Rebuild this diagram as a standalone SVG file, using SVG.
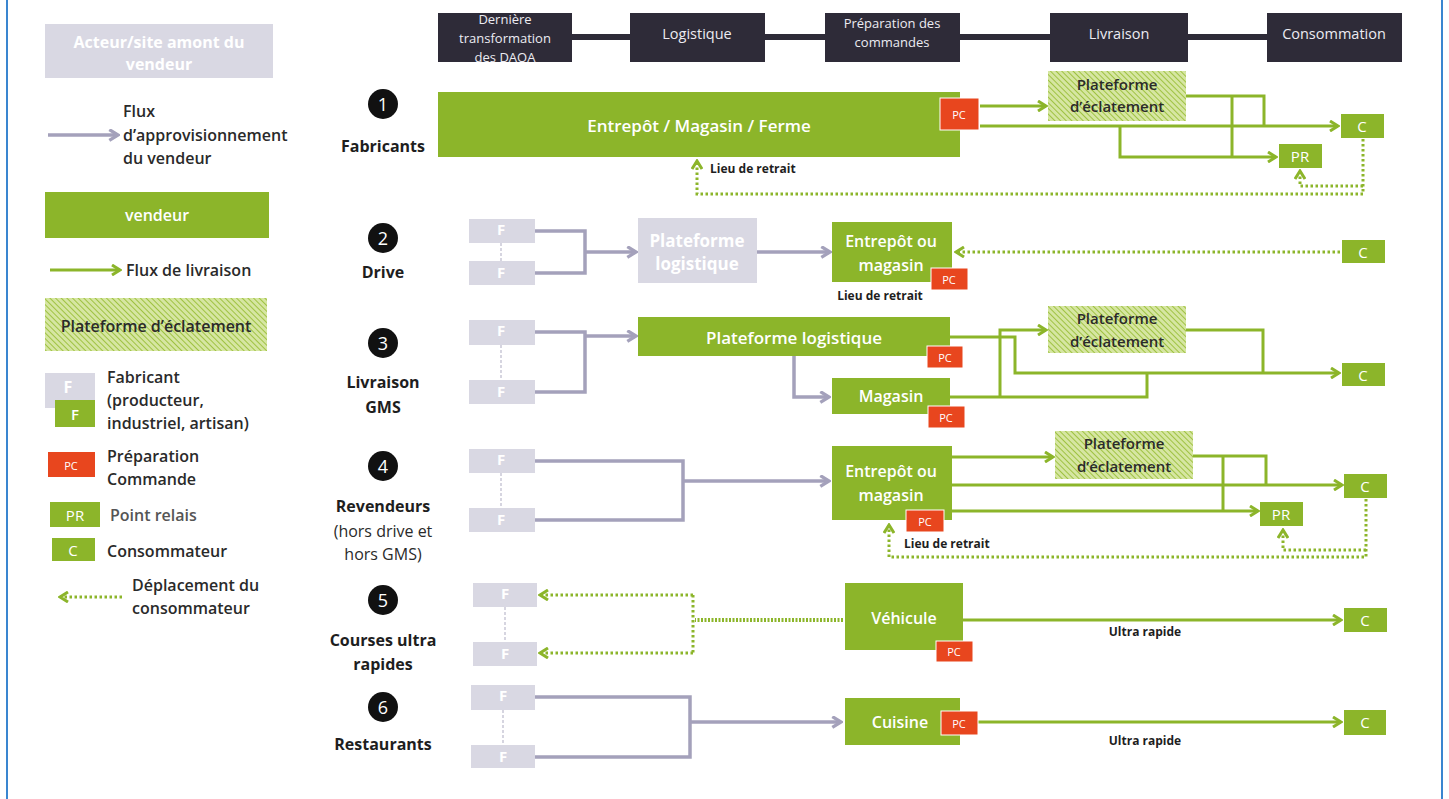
<svg xmlns="http://www.w3.org/2000/svg" width="1449" height="799" viewBox="0 0 1449 799">
<defs>
<style>
text{font-family:"Open Sans","Noto Sans","DejaVu Sans",sans-serif}
.g{fill:#8cb52a}
.gr{fill:#d9d8e3}
.pc{fill:#e8461e;stroke:#fff;stroke-width:1}
.hd{fill:#2e2b38}
.ht{fill:url(#hatch)}
.tw{fill:#fff;font-weight:600;text-anchor:middle;dominant-baseline:central}
.tr{fill:#fff;font-size:15px;font-weight:400;text-anchor:middle;dominant-baseline:central}
.th{fill:#ecebf2;font-size:13px;text-anchor:middle;dominant-baseline:central}
.th1{fill:#ecebf2;font-size:14.5px;text-anchor:middle;dominant-baseline:central}
.tpc{fill:#fff;font-size:11px;text-anchor:middle;dominant-baseline:central}
.td{fill:#2a2a2a;font-weight:600;dominant-baseline:central}
.tb{fill:#1e1e1e;font-weight:700;dominant-baseline:central}
.tc{text-anchor:middle}
.tn{fill:#2a2a2a;font-weight:400;dominant-baseline:central}
.lg{fill:none;stroke:#8cb52a;stroke-width:3}
.lgr{fill:none;stroke:#a4a1bb;stroke-width:3.5}
.ld{fill:none;stroke:#8cb52a;stroke-width:3;stroke-dasharray:2.5 2.5}
.ldd{fill:none;stroke:#8cb52a;stroke-width:4;stroke-dasharray:2 1.5}
.dash{stroke:#c9c8d6;stroke-width:1.5;stroke-dasharray:3 2}
.num{fill:#fff;font-size:18px;text-anchor:middle;dominant-baseline:central}
</style>
<pattern id="hatch" width="4" height="4" patternUnits="userSpaceOnUse" patternTransform="rotate(-45)">
<rect width="4" height="4" fill="#d6e6a2"/>
<line x1="0" y1="0" x2="0" y2="4" stroke="#9fc242" stroke-width="2"/>
</pattern>
<marker id="ag" viewBox="0 0 12 12" refX="10" refY="6" markerWidth="12" markerHeight="12" markerUnits="userSpaceOnUse" orient="auto"><path d="M2,1 L10,6 L2,11" fill="none" stroke="#8cb52a" stroke-width="3"/></marker>
<marker id="agr" viewBox="0 0 12 12" refX="10" refY="6" markerWidth="13" markerHeight="13" markerUnits="userSpaceOnUse" orient="auto"><path d="M2,1 L10,6 L2,11" fill="none" stroke="#a4a1bb" stroke-width="3"/></marker>
</defs>

<rect width="1449" height="799" fill="#fff"/>
<line x1="7" y1="0" x2="7" y2="799" stroke="#3a86d0" stroke-width="2"/>
<line x1="1442" y1="0" x2="1442" y2="799" stroke="#3a86d0" stroke-width="2"/>

<!-- Legend -->
<g id="legend">
<rect class="gr" x="45" y="24" width="228" height="54"/>
<text class="tw" x="159" y="42" font-size="16" style="font-weight:700">Acteur/site amont du</text>
<text class="tw" x="159" y="64" font-size="16" style="font-weight:700">vendeur</text>
<path class="lgr" d="M48,135 H118" marker-end="url(#agr)"/>
<text class="td" x="123" y="111" font-size="16">Flux</text>
<text class="td" x="123" y="135" font-size="16">d’approvisionnement</text>
<text class="td" x="123" y="158" font-size="16">du vendeur</text>
<rect class="g" x="45" y="192" width="224" height="46"/>
<text class="tw" x="157" y="215" font-size="16">vendeur</text>
<path class="lg" d="M50,270 H120" marker-end="url(#ag)"/>
<text class="td" x="126" y="270" font-size="16">Flux de livraison</text>
<rect class="ht" x="45" y="298" width="222" height="53"/>
<text class="td tc" x="156" y="326" font-size="16">Plateforme d’éclatement</text>
<rect class="gr" x="45" y="373" width="50" height="35"/>
<text class="tw" x="68" y="387" font-size="16" style="font-weight:700">F</text>
<rect class="g" x="55" y="400" width="40" height="27"/>
<text class="tw" x="75" y="414" font-size="15">F</text>
<text class="td" x="107" y="377" font-size="16">Fabricant</text>
<text class="td" x="107" y="400" font-size="16">(producteur,</text>
<text class="td" x="107" y="423" font-size="16">industriel, artisan)</text>
<rect class="pc" x="48" y="452" width="47" height="25" style="stroke:none"/>
<text class="tpc" x="71" y="465">PC</text>
<text class="td" x="107" y="456" font-size="16">Préparation</text>
<text class="td" x="107" y="479" font-size="16">Commande</text>
<rect class="g" x="50" y="502" width="50" height="25"/>
<text class="tr" x="75" y="515">PR</text>
<text class="td" x="110" y="515" font-size="16" style="fill:#555">Point relais</text>
<rect class="g" x="52" y="538" width="43" height="23"/>
<text class="tr" x="73" y="550">C</text>
<text class="td" x="107" y="551" font-size="16">Consommateur</text>
<path class="ld" d="M122,597 H60" marker-end="url(#ag)"/>
<text class="td" x="132" y="585" font-size="16">Déplacement du</text>
<text class="td" x="132" y="608" font-size="16">consommateur</text>
</g>

<!-- Header -->
<g id="header">
<rect class="hd" x="572" y="34" width="58" height="6"/>
<rect class="hd" x="765" y="34" width="60" height="6"/>
<rect class="hd" x="960" y="34" width="90" height="6"/>
<rect class="hd" x="1188" y="34" width="79" height="6"/>
<rect class="hd" x="438" y="13" width="134" height="49"/>
<text class="th" x="505" y="19">Dernière</text>
<text class="th" x="505" y="38">transformation</text>
<text class="th" x="505" y="57">des DAOA</text>
<rect class="hd" x="630" y="13" width="135" height="49"/>
<text class="th1" x="697" y="33">Logistique</text>
<rect class="hd" x="825" y="13" width="135" height="49"/>
<text class="th" x="892" y="23">Préparation des</text>
<text class="th" x="892" y="42">commandes</text>
<rect class="hd" x="1050" y="13" width="138" height="49"/>
<text class="th1" x="1119" y="33">Livraison</text>
<rect class="hd" x="1267" y="13" width="135" height="49"/>
<text class="th1" x="1334" y="33">Consommation</text>
</g>

<!-- Row labels -->
<g id="row1-label">
<circle cx="383" cy="104" r="15" fill="#111"/><text class="num" x="383" y="104">1</text>
<text class="tb tc" x="383" y="146" font-size="16">Fabricants</text>
</g>
<g id="row2-label">
<circle cx="383" cy="238" r="15" fill="#111"/><text class="num" x="383" y="238">2</text>
<text class="tb tc" x="383" y="272" font-size="16">Drive</text>
</g>
<g id="row3-label">
<circle cx="383" cy="343" r="15" fill="#111"/><text class="num" x="383" y="343">3</text>
<text class="tb tc" x="383" y="382" font-size="16">Livraison</text>
<text class="tb tc" x="383" y="407" font-size="16">GMS</text>
</g>
<g id="row4-label">
<circle cx="383" cy="466" r="15" fill="#111"/><text class="num" x="383" y="466">4</text>
<text class="tb tc" x="383" y="506" font-size="16">Revendeurs</text>
<text class="tn tc" x="383" y="531" font-size="16">(hors drive et</text>
<text class="tn tc" x="383" y="554" font-size="16">hors GMS)</text>
</g>
<g id="row5-label">
<circle cx="383" cy="600" r="15" fill="#111"/><text class="num" x="383" y="600">5</text>
<text class="tb tc" x="383" y="640" font-size="16">Courses ultra</text>
<text class="tb tc" x="383" y="664" font-size="16">rapides</text>
</g>
<g id="row6-label">
<circle cx="383" cy="707" r="15" fill="#111"/><text class="num" x="383" y="707">6</text>
<text class="tb tc" x="383" y="744" font-size="16">Restaurants</text>
</g>

<!-- Connectors -->
<g id="connectors">
<!-- row 1 -->
<path class="lg" d="M980,106 H1046" marker-end="url(#ag)"/>
<path class="lg" d="M980,126 H1338" marker-end="url(#ag)"/>
<path class="lg" d="M1186,96 H1264 V126"/>
<path class="lg" d="M1232,96 V157"/>
<path class="lg" d="M1120,126 V157 H1276" marker-end="url(#ag)"/>
<path class="ld" d="M1363,139 V194 H697 V161" marker-end="url(#ag)"/>
<path class="ld" d="M1363,186 H1300 V171" marker-end="url(#ag)"/>
<!-- row 2 -->
<line class="dash" x1="501" y1="243" x2="501" y2="261"/>
<path class="lgr" d="M535,231 H585 V273 H535"/>
<path class="lgr" d="M585,252 H636" marker-end="url(#agr)"/>
<path class="lgr" d="M757,252 H830" marker-end="url(#agr)"/>
<path class="ld" d="M1340,252 H956" marker-end="url(#ag)"/>
<!-- row 3 -->
<line class="dash" x1="501" y1="345" x2="501" y2="380"/>
<path class="lgr" d="M535,332 H585 V392 H535"/>
<path class="lgr" d="M585,336 H636" marker-end="url(#agr)"/>
<path class="lgr" d="M794,356 V397 H829" marker-end="url(#agr)"/>
<path class="lg" d="M950,337 H1015 V373 H1339" marker-end="url(#ag)"/>
<path class="lg" d="M950,397 H1147 V373"/>
<path class="lg" d="M1000,397 V330 H1046" marker-end="url(#ag)"/>
<path class="lg" d="M1186,330 H1263 V373"/>
<!-- row 4 -->
<line class="dash" x1="501" y1="473" x2="501" y2="508"/>
<path class="lgr" d="M535,461 H683 V520 H535"/>
<path class="lgr" d="M683,481 H829" marker-end="url(#agr)"/>
<path class="lg" d="M952,457 H1053" marker-end="url(#ag)"/>
<path class="lg" d="M952,485 H1342" marker-end="url(#ag)"/>
<path class="lg" d="M952,511 H1258" marker-end="url(#ag)"/>
<path class="lg" d="M1193,456 H1266 V485"/>
<path class="lg" d="M1223,456 V511"/>
<path class="ld" d="M1366,499 V557 H889 V525" marker-end="url(#ag)"/>
<path class="ld" d="M1366,550 H1283 V530" marker-end="url(#ag)"/>
<!-- row 5 -->
<line class="dash" x1="505" y1="607" x2="505" y2="642"/>
<path class="ld" d="M693,595 V653"/>
<path class="ld" d="M693,595 H540" marker-end="url(#ag)"/>
<path class="ld" d="M693,653 H540" marker-end="url(#ag)"/>
<path class="ldd" d="M843,620 H695"/>
<path class="lg" d="M963,620 H1341" marker-end="url(#ag)"/>
<!-- row 6 -->
<line class="dash" x1="503" y1="710" x2="503" y2="745"/>
<path class="lgr" d="M535,697 H690 V757 H535"/>
<path class="lgr" d="M690,722 H841" marker-end="url(#agr)"/>
<path class="lg" d="M978,722 H1341" marker-end="url(#ag)"/>
</g>

<!-- Row 1 nodes -->
<g id="r1-entrepot">
<rect class="g" x="438" y="92" width="522" height="65"/>
<text class="tw" x="699" y="125" font-size="17">Entrepôt / Magasin / Ferme</text>
</g>
<g id="r1-pc"><rect class="pc" x="940" y="98" width="39" height="32"/><text class="tpc" x="959" y="114">PC</text></g>
<g id="r1-plateforme">
<rect class="ht" x="1048" y="71" width="138" height="50"/>
<text class="td tc" x="1117" y="84" font-size="15">Plateforme</text>
<text class="td tc" x="1117" y="106" font-size="15">d’éclatement</text>
</g>
<g id="r1-c"><rect class="g" x="1341" y="114" width="43" height="24"/><text class="tr" x="1362" y="126">C</text></g>
<g id="r1-pr"><rect class="g" x="1279" y="144" width="43" height="24"/><text class="tr" x="1300" y="156">PR</text></g>
<g id="r1-lieu"><text class="tb" x="710" y="168" font-size="12">Lieu de retrait</text></g>

<!-- Row 2 nodes -->
<g id="r2-f1"><rect class="gr" x="469" y="219" width="66" height="24"/><text class="tw" x="501" y="229" font-size="15" style="font-weight:700">F</text></g>
<g id="r2-f2"><rect class="gr" x="469" y="261" width="66" height="24"/><text class="tw" x="501" y="272" font-size="15" style="font-weight:700">F</text></g>
<g id="r2-plateforme">
<rect class="gr" x="638" y="218" width="119" height="65"/>
<text class="tw" x="697" y="240" font-size="17" style="font-weight:700">Plateforme</text>
<text class="tw" x="697" y="263" font-size="17" style="font-weight:700">logistique</text>
</g>
<g id="r2-entrepot">
<rect class="g" x="832" y="222" width="120" height="60"/>
<text class="tw" x="891" y="241" font-size="16">Entrepôt ou</text>
<text class="tw" x="891" y="265" font-size="16">magasin</text>
</g>
<g id="r2-pc"><rect class="pc" x="931" y="268" width="37" height="22"/><text class="tpc" x="949" y="279">PC</text></g>
<g id="r2-lieu"><text class="tb tc" x="880" y="295" font-size="12">Lieu de retrait</text></g>
<g id="r2-c"><rect class="g" x="1342" y="240" width="43" height="23"/><text class="tr" x="1363" y="252">C</text></g>

<!-- Row 3 nodes -->
<g id="r3-f1"><rect class="gr" x="469" y="320" width="66" height="25"/><text class="tw" x="501" y="330" font-size="15" style="font-weight:700">F</text></g>
<g id="r3-f2"><rect class="gr" x="469" y="380" width="66" height="24"/><text class="tw" x="501" y="391" font-size="15" style="font-weight:700">F</text></g>
<g id="r3-plateforme-log">
<rect class="g" x="638" y="317" width="312" height="39"/>
<text class="tw" x="794" y="337" font-size="17">Plateforme logistique</text>
</g>
<g id="r3-pc1"><rect class="pc" x="927" y="346" width="36" height="22"/><text class="tpc" x="945" y="357">PC</text></g>
<g id="r3-magasin">
<rect class="g" x="832" y="378" width="118" height="36"/>
<text class="tw" x="891" y="396" font-size="16">Magasin</text>
</g>
<g id="r3-pc2"><rect class="pc" x="928" y="406" width="37" height="22"/><text class="tpc" x="946" y="417">PC</text></g>
<g id="r3-plateforme">
<rect class="ht" x="1048" y="306" width="138" height="47"/>
<text class="td tc" x="1117" y="318" font-size="15">Plateforme</text>
<text class="td tc" x="1117" y="341" font-size="15">d’éclatement</text>
</g>
<g id="r3-c"><rect class="g" x="1342" y="363" width="43" height="23"/><text class="tr" x="1363" y="375">C</text></g>

<!-- Row 4 nodes -->
<g id="r4-f1"><rect class="gr" x="469" y="449" width="66" height="24"/><text class="tw" x="501" y="459" font-size="15" style="font-weight:700">F</text></g>
<g id="r4-f2"><rect class="gr" x="469" y="508" width="66" height="24"/><text class="tw" x="501" y="519" font-size="15" style="font-weight:700">F</text></g>
<g id="r4-entrepot">
<rect class="g" x="832" y="446" width="120" height="74"/>
<text class="tw" x="891" y="471" font-size="16">Entrepôt ou</text>
<text class="tw" x="891" y="495" font-size="16">magasin</text>
</g>
<g id="r4-pc"><rect class="pc" x="906" y="510" width="38" height="22"/><text class="tpc" x="925" y="521">PC</text></g>
<g id="r4-plateforme">
<rect class="ht" x="1055" y="431" width="138" height="48"/>
<text class="td tc" x="1124" y="443" font-size="15">Plateforme</text>
<text class="td tc" x="1124" y="466" font-size="15">d’éclatement</text>
</g>
<g id="r4-c"><rect class="g" x="1344" y="474" width="43" height="24"/><text class="tr" x="1365" y="486">C</text></g>
<g id="r4-pr"><rect class="g" x="1260" y="502" width="43" height="24"/><text class="tr" x="1281" y="514">PR</text></g>
<g id="r4-lieu"><text class="tb" x="904" y="543" font-size="12">Lieu de retrait</text></g>

<!-- Row 5 nodes -->
<g id="r5-f1"><rect class="gr" x="473" y="583" width="64" height="24"/><text class="tw" x="505" y="593" font-size="15" style="font-weight:700">F</text></g>
<g id="r5-f2"><rect class="gr" x="473" y="642" width="64" height="24"/><text class="tw" x="505" y="653" font-size="15" style="font-weight:700">F</text></g>
<g id="r5-vehicule">
<rect class="g" x="845" y="583" width="118" height="67"/>
<text class="tw" x="904" y="618" font-size="16">Véhicule</text>
</g>
<g id="r5-pc"><rect class="pc" x="936" y="641" width="37" height="21"/><text class="tpc" x="954" y="651">PC</text></g>
<g id="r5-label"><text class="tb tc" x="1145" y="631" font-size="12">Ultra rapide</text></g>
<g id="r5-c"><rect class="g" x="1344" y="608" width="43" height="24"/><text class="tr" x="1365" y="620">C</text></g>

<!-- Row 6 nodes -->
<g id="r6-f1"><rect class="gr" x="471" y="685" width="64" height="25"/><text class="tw" x="503" y="695" font-size="15" style="font-weight:700">F</text></g>
<g id="r6-f2"><rect class="gr" x="471" y="745" width="64" height="23"/><text class="tw" x="503" y="756" font-size="15" style="font-weight:700">F</text></g>
<g id="r6-cuisine">
<rect class="g" x="845" y="698" width="115" height="47"/>
<text class="tw" x="900" y="722" font-size="16">Cuisine</text>
</g>
<g id="r6-pc"><rect class="pc" x="941" y="711" width="37" height="24"/><text class="tpc" x="959" y="723">PC</text></g>
<g id="r6-label"><text class="tb tc" x="1145" y="740" font-size="12">Ultra rapide</text></g>
<g id="r6-c"><rect class="g" x="1344" y="710" width="42" height="25"/><text class="tr" x="1365" y="722">C</text></g>
</svg>
